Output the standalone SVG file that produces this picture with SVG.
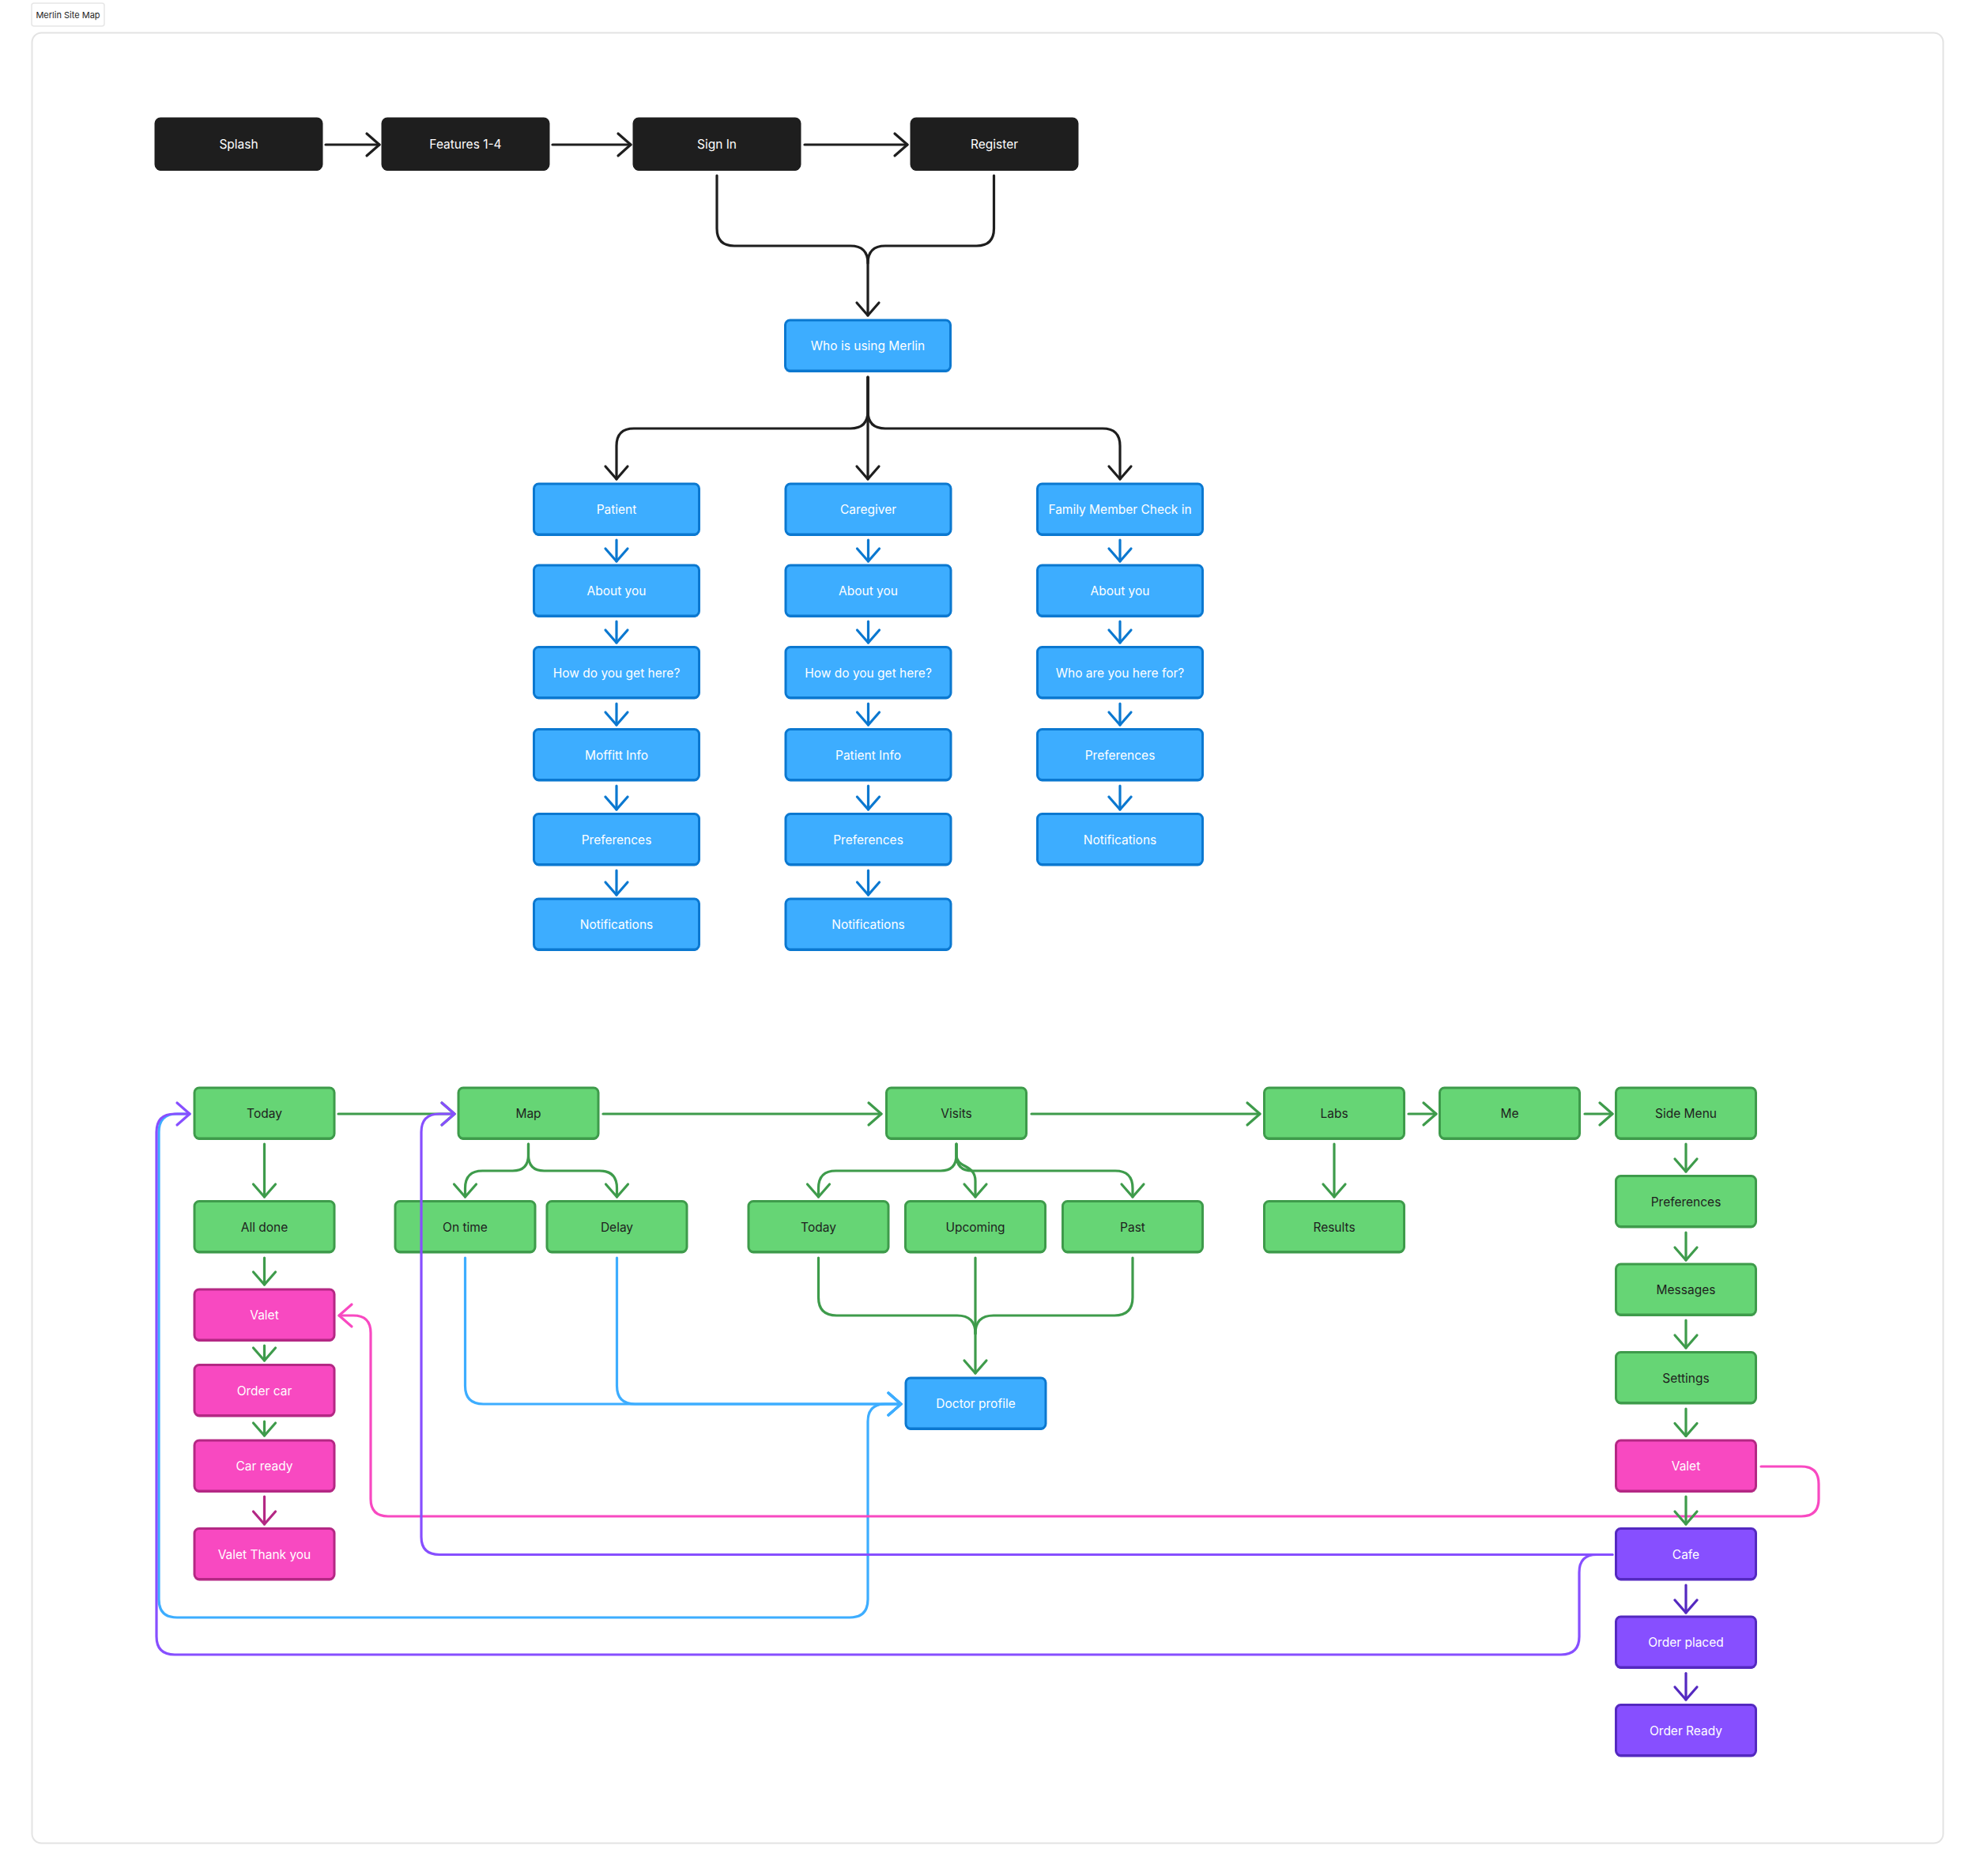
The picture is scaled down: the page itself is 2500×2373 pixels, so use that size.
<svg xmlns="http://www.w3.org/2000/svg" width="2500" height="2373" viewBox="0 0 2500 2373">
<style>
text{font-family:Inter,"Noto Sans","Liberation Sans",sans-serif;font-size:15.5px;text-anchor:middle}
.bk .sh{fill:#1e1e1e}.bk .bx{fill:#1e1e1e;stroke:#1e1e1e}.bk text{fill:#fff}
.bl .sh{fill:#0b78d0}.bl .bx{fill:#3dadff;stroke:#0b78d0}.bl text{fill:#fff}
.gr .sh{fill:#3e9b4b}.gr .bx{fill:#66d575;stroke:#3e9b4b}.gr text{fill:#1e1e1e}
.pk .sh{fill:#b42884}.pk .bx{fill:#f849c1;stroke:#b42884}.pk text{fill:#fff}
.pu .sh{fill:#5429c0}.pu .bx{fill:#874fff;stroke:#5429c0}.pu text{fill:#fff}
.bx{stroke-width:3}
.c{fill:none;stroke-width:3.2;stroke-linecap:round;stroke-linejoin:round}
.k{stroke:#1e1e1e;marker-end:url(#mk)}
.k0{stroke:#1e1e1e}
.b{stroke:#0b78d0;marker-end:url(#mb)}
.lbm{stroke:#3dadff;marker-end:url(#mlb)}
.g{stroke:#3e9b4b;marker-end:url(#mg)}
.g0{stroke:#3e9b4b}
.p{stroke:#f849c1;marker-end:url(#mp)}
.pd{stroke:#b42884;marker-end:url(#mpd)}
.v{stroke:#874fff;marker-end:url(#mv)}
.vd{stroke:#5429c0;marker-end:url(#mvd)}
.hd{fill:none;stroke-width:3.2;stroke-linecap:round;stroke-linejoin:round}
</style>
<defs>
<marker id="mk" markerUnits="userSpaceOnUse" viewBox="-20 -20 40 40" markerWidth="40" markerHeight="40" refX="0" refY="0" orient="auto" overflow="visible"><path class="hd" stroke="#1e1e1e" d="M-16,-14 L0,0 L-16,14"/></marker>
<marker id="mb" markerUnits="userSpaceOnUse" viewBox="-20 -20 40 40" markerWidth="40" markerHeight="40" refX="0" refY="0" orient="auto" overflow="visible"><path class="hd" stroke="#0b78d0" d="M-16,-14 L0,0 L-16,14"/></marker>
<marker id="mlb" markerUnits="userSpaceOnUse" viewBox="-20 -20 40 40" markerWidth="40" markerHeight="40" refX="0" refY="0" orient="auto" overflow="visible"><path class="hd" stroke="#3dadff" d="M-16,-14 L0,0 L-16,14"/></marker>
<marker id="mg" markerUnits="userSpaceOnUse" viewBox="-20 -20 40 40" markerWidth="40" markerHeight="40" refX="0" refY="0" orient="auto" overflow="visible"><path class="hd" stroke="#3e9b4b" d="M-16,-14 L0,0 L-16,14"/></marker>
<marker id="mp" markerUnits="userSpaceOnUse" viewBox="-20 -20 40 40" markerWidth="40" markerHeight="40" refX="0" refY="0" orient="auto" overflow="visible"><path class="hd" stroke="#f849c1" d="M-16,-14 L0,0 L-16,14"/></marker>
<marker id="mpd" markerUnits="userSpaceOnUse" viewBox="-20 -20 40 40" markerWidth="40" markerHeight="40" refX="0" refY="0" orient="auto" overflow="visible"><path class="hd" stroke="#b42884" d="M-16,-14 L0,0 L-16,14"/></marker>
<marker id="mv" markerUnits="userSpaceOnUse" viewBox="-20 -20 40 40" markerWidth="40" markerHeight="40" refX="0" refY="0" orient="auto" overflow="visible"><path class="hd" stroke="#874fff" d="M-16,-14 L0,0 L-16,14"/></marker>
<marker id="mvd" markerUnits="userSpaceOnUse" viewBox="-20 -20 40 40" markerWidth="40" markerHeight="40" refX="0" refY="0" orient="auto" overflow="visible"><path class="hd" stroke="#5429c0" d="M-16,-14 L0,0 L-16,14"/></marker>
</defs>
<rect width="2500" height="2373" fill="#fff"/>
<g id="title">
<rect x="40" y="4" width="92" height="29" rx="3" fill="#fff" stroke="#e6e6e6" stroke-width="1.5"/>
<text x="86" y="22.5" style="font-size:11px;fill:#1e1e1e">Merlin Site Map</text>
</g>
<rect id="frame" x="40.5" y="41.5" width="2418" height="2290" rx="12" fill="#fff" stroke="#e3e3e3" stroke-width="2"/>

<g id="nodes">
<g id="splash" class="bk"><rect class="sh" x="197" y="152" width="210" height="64" rx="6"/><rect class="bx" x="197" y="150" width="210" height="64" rx="6"/><text x="302" y="188">Splash</text></g>
<g id="features" class="bk"><rect class="sh" x="484" y="152" width="210" height="64" rx="6"/><rect class="bx" x="484" y="150" width="210" height="64" rx="6"/><text x="589" y="188">Features 1-4</text></g>
<g id="signin" class="bk"><rect class="sh" x="802" y="152" width="210" height="64" rx="6"/><rect class="bx" x="802" y="150" width="210" height="64" rx="6"/><text x="907" y="188">Sign In</text></g>
<g id="register" class="bk"><rect class="sh" x="1153" y="152" width="210" height="64" rx="6"/><rect class="bx" x="1153" y="150" width="210" height="64" rx="6"/><text x="1258" y="188">Register</text></g>

<g id="who" class="bl"><rect class="sh" x="993.5" y="407" width="209" height="64" rx="6"/><rect class="bx" x="993.5" y="405" width="209" height="64" rx="6"/><text x="1098" y="443">Who is using Merlin</text></g>

<g id="patient" class="bl"><rect class="sh" x="675.5" y="614" width="209" height="64" rx="6"/><rect class="bx" x="675.5" y="612" width="209" height="64" rx="6"/><text x="780" y="650">Patient</text></g>
<g id="p-about" class="bl"><rect class="sh" x="675.5" y="717" width="209" height="64" rx="6"/><rect class="bx" x="675.5" y="715" width="209" height="64" rx="6"/><text x="780" y="753">About you</text></g>
<g id="p-how" class="bl"><rect class="sh" x="675.5" y="820.5" width="209" height="64" rx="6"/><rect class="bx" x="675.5" y="818.5" width="209" height="64" rx="6"/><text x="780" y="856.5">How do you get here?</text></g>
<g id="p-moffitt" class="bl"><rect class="sh" x="675.5" y="924.5" width="209" height="64" rx="6"/><rect class="bx" x="675.5" y="922.5" width="209" height="64" rx="6"/><text x="780" y="960.5">Moffitt Info</text></g>
<g id="p-pref" class="bl"><rect class="sh" x="675.5" y="1031.5" width="209" height="64" rx="6"/><rect class="bx" x="675.5" y="1029.5" width="209" height="64" rx="6"/><text x="780" y="1067.5">Preferences</text></g>
<g id="p-notif" class="bl"><rect class="sh" x="675.5" y="1139" width="209" height="64" rx="6"/><rect class="bx" x="675.5" y="1137" width="209" height="64" rx="6"/><text x="780" y="1175">Notifications</text></g>

<g id="caregiver" class="bl"><rect class="sh" x="994" y="614" width="209" height="64" rx="6"/><rect class="bx" x="994" y="612" width="209" height="64" rx="6"/><text x="1098.5" y="650">Caregiver</text></g>
<g id="c-about" class="bl"><rect class="sh" x="994" y="717" width="209" height="64" rx="6"/><rect class="bx" x="994" y="715" width="209" height="64" rx="6"/><text x="1098.5" y="753">About you</text></g>
<g id="c-how" class="bl"><rect class="sh" x="994" y="820.5" width="209" height="64" rx="6"/><rect class="bx" x="994" y="818.5" width="209" height="64" rx="6"/><text x="1098.5" y="856.5">How do you get here?</text></g>
<g id="c-patient" class="bl"><rect class="sh" x="994" y="924.5" width="209" height="64" rx="6"/><rect class="bx" x="994" y="922.5" width="209" height="64" rx="6"/><text x="1098.5" y="960.5">Patient Info</text></g>
<g id="c-pref" class="bl"><rect class="sh" x="994" y="1031.5" width="209" height="64" rx="6"/><rect class="bx" x="994" y="1029.5" width="209" height="64" rx="6"/><text x="1098.5" y="1067.5">Preferences</text></g>
<g id="c-notif" class="bl"><rect class="sh" x="994" y="1139" width="209" height="64" rx="6"/><rect class="bx" x="994" y="1137" width="209" height="64" rx="6"/><text x="1098.5" y="1175">Notifications</text></g>

<g id="family" class="bl"><rect class="sh" x="1312.5" y="614" width="209" height="64" rx="6"/><rect class="bx" x="1312.5" y="612" width="209" height="64" rx="6"/><text x="1417" y="650">Family Member Check in</text></g>
<g id="f-about" class="bl"><rect class="sh" x="1312.5" y="717" width="209" height="64" rx="6"/><rect class="bx" x="1312.5" y="715" width="209" height="64" rx="6"/><text x="1417" y="753">About you</text></g>
<g id="f-who" class="bl"><rect class="sh" x="1312.5" y="820.5" width="209" height="64" rx="6"/><rect class="bx" x="1312.5" y="818.5" width="209" height="64" rx="6"/><text x="1417" y="856.5">Who are you here for?</text></g>
<g id="f-pref" class="bl"><rect class="sh" x="1312.5" y="924.5" width="209" height="64" rx="6"/><rect class="bx" x="1312.5" y="922.5" width="209" height="64" rx="6"/><text x="1417" y="960.5">Preferences</text></g>
<g id="f-notif" class="bl"><rect class="sh" x="1312.5" y="1031.5" width="209" height="64" rx="6"/><rect class="bx" x="1312.5" y="1029.5" width="209" height="64" rx="6"/><text x="1417" y="1067.5">Notifications</text></g>

<g id="today" class="gr"><rect class="sh" x="246" y="1378" width="177" height="64" rx="6"/><rect class="bx" x="246" y="1376" width="177" height="64" rx="6"/><text x="334.5" y="1414">Today</text></g>
<g id="map" class="gr"><rect class="sh" x="580" y="1378" width="177" height="64" rx="6"/><rect class="bx" x="580" y="1376" width="177" height="64" rx="6"/><text x="668.5" y="1414">Map</text></g>
<g id="visits" class="gr"><rect class="sh" x="1121.5" y="1378" width="177" height="64" rx="6"/><rect class="bx" x="1121.5" y="1376" width="177" height="64" rx="6"/><text x="1210" y="1414">Visits</text></g>
<g id="labs" class="gr"><rect class="sh" x="1599.5" y="1378" width="177" height="64" rx="6"/><rect class="bx" x="1599.5" y="1376" width="177" height="64" rx="6"/><text x="1688" y="1414">Labs</text></g>
<g id="me" class="gr"><rect class="sh" x="1821.5" y="1378" width="177" height="64" rx="6"/><rect class="bx" x="1821.5" y="1376" width="177" height="64" rx="6"/><text x="1910" y="1414">Me</text></g>
<g id="sidemenu" class="gr"><rect class="sh" x="2044.5" y="1378" width="177" height="64" rx="6"/><rect class="bx" x="2044.5" y="1376" width="177" height="64" rx="6"/><text x="2133" y="1414">Side Menu</text></g>

<g id="alldone" class="gr"><rect class="sh" x="246" y="1521.5" width="177" height="64" rx="6"/><rect class="bx" x="246" y="1519.5" width="177" height="64" rx="6"/><text x="334.5" y="1557.5">All done</text></g>
<g id="ontime" class="gr"><rect class="sh" x="500" y="1521.5" width="177" height="64" rx="6"/><rect class="bx" x="500" y="1519.5" width="177" height="64" rx="6"/><text x="588.5" y="1557.5">On time</text></g>
<g id="delay" class="gr"><rect class="sh" x="692" y="1521.5" width="177" height="64" rx="6"/><rect class="bx" x="692" y="1519.5" width="177" height="64" rx="6"/><text x="780.5" y="1557.5">Delay</text></g>
<g id="v-today" class="gr"><rect class="sh" x="947" y="1521.5" width="177" height="64" rx="6"/><rect class="bx" x="947" y="1519.5" width="177" height="64" rx="6"/><text x="1035.5" y="1557.5">Today</text></g>
<g id="upcoming" class="gr"><rect class="sh" x="1145.5" y="1521.5" width="177" height="64" rx="6"/><rect class="bx" x="1145.5" y="1519.5" width="177" height="64" rx="6"/><text x="1234" y="1557.5">Upcoming</text></g>
<g id="past" class="gr"><rect class="sh" x="1344.5" y="1521.5" width="177" height="64" rx="6"/><rect class="bx" x="1344.5" y="1519.5" width="177" height="64" rx="6"/><text x="1433" y="1557.5">Past</text></g>
<g id="results" class="gr"><rect class="sh" x="1599.5" y="1521.5" width="177" height="64" rx="6"/><rect class="bx" x="1599.5" y="1519.5" width="177" height="64" rx="6"/><text x="1688" y="1557.5">Results</text></g>

<g id="sm-pref" class="gr"><rect class="sh" x="2044.5" y="1489.5" width="177" height="64" rx="6"/><rect class="bx" x="2044.5" y="1487.5" width="177" height="64" rx="6"/><text x="2133" y="1525.5">Preferences</text></g>
<g id="messages" class="gr"><rect class="sh" x="2044.5" y="1601" width="177" height="64" rx="6"/><rect class="bx" x="2044.5" y="1599" width="177" height="64" rx="6"/><text x="2133" y="1637">Messages</text></g>
<g id="settings" class="gr"><rect class="sh" x="2044.5" y="1712.5" width="177" height="64" rx="6"/><rect class="bx" x="2044.5" y="1710.5" width="177" height="64" rx="6"/><text x="2133" y="1748.5">Settings</text></g>
<g id="sm-valet" class="pk"><rect class="sh" x="2044.5" y="1824" width="177" height="64" rx="6"/><rect class="bx" x="2044.5" y="1822" width="177" height="64" rx="6"/><text x="2133" y="1860">Valet</text></g>
<g id="cafe" class="pu"><rect class="sh" x="2044.5" y="1935.5" width="177" height="64" rx="6"/><rect class="bx" x="2044.5" y="1933.5" width="177" height="64" rx="6"/><text x="2133" y="1971.5">Cafe</text></g>
<g id="orderplaced" class="pu"><rect class="sh" x="2044.5" y="2047" width="177" height="64" rx="6"/><rect class="bx" x="2044.5" y="2045" width="177" height="64" rx="6"/><text x="2133" y="2083">Order placed</text></g>
<g id="orderready" class="pu"><rect class="sh" x="2044.5" y="2158.5" width="177" height="64" rx="6"/><rect class="bx" x="2044.5" y="2156.5" width="177" height="64" rx="6"/><text x="2133" y="2194.5">Order Ready</text></g>

<g id="valet" class="pk"><rect class="sh" x="246" y="1633" width="177" height="64" rx="6"/><rect class="bx" x="246" y="1631" width="177" height="64" rx="6"/><text x="334.5" y="1669">Valet</text></g>
<g id="ordercar" class="pk"><rect class="sh" x="246" y="1728.5" width="177" height="64" rx="6"/><rect class="bx" x="246" y="1726.5" width="177" height="64" rx="6"/><text x="334.5" y="1764.5">Order car</text></g>
<g id="carready" class="pk"><rect class="sh" x="246" y="1824" width="177" height="64" rx="6"/><rect class="bx" x="246" y="1822" width="177" height="64" rx="6"/><text x="334.5" y="1860">Car ready</text></g>
<g id="valetthanks" class="pk"><rect class="sh" x="246" y="1935.5" width="177" height="64" rx="6"/><rect class="bx" x="246" y="1933.5" width="177" height="64" rx="6"/><text x="334.5" y="1971.5">Valet Thank you</text></g>

<g id="doctor" class="bl"><rect class="sh" x="1146" y="1745" width="177" height="64" rx="6"/><rect class="bx" x="1146" y="1743" width="177" height="64" rx="6"/><text x="1234.5" y="1781">Doctor profile</text></g>
</g>

<g id="connectors">
<path class="c k" d="M412,183 H480"/>
<path class="c k" d="M699,183 H798"/>
<path class="c k" d="M1018,183 H1148"/>
<path class="c k0" d="M907,222 V289 Q907,311 929,311 H1076 Q1098,311 1098,333"/>
<path class="c k" d="M1257.5,222 V289 Q1257.5,311 1235.5,311 H1120 Q1098,311 1098,333 V399"/>
<path class="c k" d="M1098,477 V520 Q1098,542 1076,542 H802 Q780,542 780,564 V606"/>
<path class="c k" d="M1098,477 V606"/>
<path class="c k" d="M1098,477 V520 Q1098,542 1120,542 H1395 Q1417,542 1417,564 V606"/>
<path class="c b" d="M780,683 V710"/><path class="c b" d="M780,786 V813"/><path class="c b" d="M780,890 V917"/><path class="c b" d="M780,994 V1024"/><path class="c b" d="M780,1101 V1132"/>
<path class="c b" d="M1098.5,683 V710"/><path class="c b" d="M1098.5,786 V813"/><path class="c b" d="M1098.5,890 V917"/><path class="c b" d="M1098.5,994 V1024"/><path class="c b" d="M1098.5,1101 V1132"/>
<path class="c b" d="M1417,683 V710"/><path class="c b" d="M1417,786 V813"/><path class="c b" d="M1417,890 V917"/><path class="c b" d="M1417,994 V1024"/>
<path class="c g" d="M428,1409 H575"/>
<path class="c g" d="M763,1409 H1115"/>
<path class="c g" d="M1305,1409 H1594"/>
<path class="c g" d="M1782,1409 H1817"/>
<path class="c g" d="M2005,1409 H2040"/>
<path class="c g" d="M334.5,1447 V1514"/>
<path class="c g" d="M668.5,1447 V1461 Q668.5,1481 648.5,1481 H610.5 Q588.5,1481 588.5,1503 V1514"/>
<path class="c g" d="M668.5,1447 V1461 Q668.5,1481 688.5,1481 H758.5 Q780.5,1481 780.5,1503 V1514"/>
<path class="c g" d="M1210,1447 V1461 Q1210,1481 1190,1481 H1057.5 Q1035.5,1481 1035.5,1503 V1514"/>
<path class="c g" d="M1210,1447 V1461 C1210,1478 1234,1472 1234,1494 V1514"/>
<path class="c g" d="M1210,1447 V1461 Q1210,1481 1230,1481 H1411 Q1433,1481 1433,1503 V1514"/>
<path class="c g0" d="M1035.5,1591 V1641 Q1035.5,1664 1058.5,1664 H1211 Q1234,1664 1234,1687"/>
<path class="c g0" d="M1433,1591 V1641 Q1433,1664 1410,1664 H1257 Q1234,1664 1234,1687"/>
<path class="c g" d="M1234,1591 V1737"/>
<path class="c g" d="M1688,1447 V1514"/>
<path class="c g" d="M2133,1447 V1482"/>
<path class="c g" d="M2133,1559 V1594"/>
<path class="c g" d="M2133,1670 V1705"/>
<path class="c g" d="M2133,1782 V1816.5"/>
<path class="c vd" d="M2133,2005 V2040"/>
<path class="c vd" d="M2133,2116.5 V2150"/>
<path class="c g" d="M334.5,1591 V1625"/>
<path class="c g" d="M334.5,1702 V1721"/>
<path class="c g" d="M334.5,1798 V1816"/>
<path class="c pd" d="M334.5,1893 V1928"/>
<path class="c lbm" d="M588.5,1591 V1753 Q588.5,1776 611.5,1776 H1140"/>
<path class="c lbm" d="M780.5,1591 V1753 Q780.5,1776 803.5,1776 H1140"/>
<path class="c lbm" d="M240,1409 H224 Q201,1409 201,1432 V2023 Q201,2046 224,2046 H1075 Q1098,2046 1098,2023 V1798 Q1098,1776 1120,1776 H1140"/>
<path class="c p" d="M2228,1855 H2279 Q2301,1855 2301,1877 V1896 Q2301,1918 2279,1918 H491 Q469,1918 469,1896 V1686 Q469,1664 447,1664 H429"/>
<path class="c g" d="M2133,1893 V1928"/>
<path class="c v" d="M2040,1966.5 H556 Q533,1966.5 533,1944 V1432 Q533,1409 556,1409 H575"/>
<path class="c v" d="M2040,1966.5 H2020 Q1998,1966.5 1998,1989 V2070 Q1998,2093 1975,2093 H221 Q198,2093 198,2070 V1432 Q198,1409 221,1409 H240"/>
</g>
</svg>
